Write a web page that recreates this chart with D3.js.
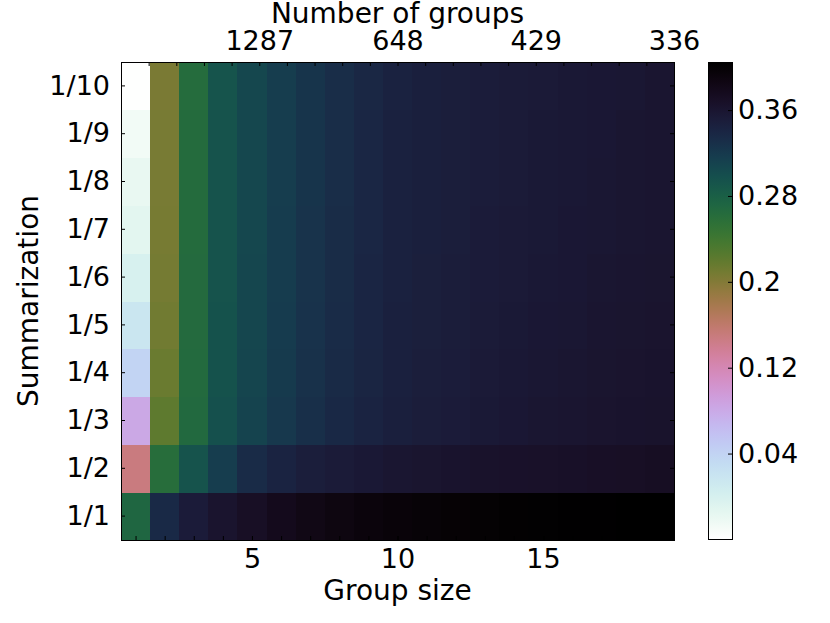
<!DOCTYPE html>
<html>
<head>
<meta charset="utf-8">
<script src="https://cdn.jsdelivr.net/npm/d3@7"></script>
<style>
body { margin: 0; background: #fff; }
text { font-family: "DejaVu Sans", sans-serif; fill: #000; }
</style>
</head>
<body>
<svg id="chart" width="830" height="623"></svg>
<script>
// group sizes along the bottom, summarization levels up the side
var groupSizes = [1, 2, 3, 4, 5, 6, 7, 8, 9, 10, 11, 12, 13, 14, 15, 16, 17, 18, 19];
var sumLabels = ["1/1", "1/2", "1/3", "1/4", "1/5", "1/6", "1/7", "1/8", "1/9", "1/10"];

// one row of values per summarization level
var sum1  = [0.271, 0.336, 0.352, 0.362, 0.370, 0.378, 0.384, 0.389, 0.392, 0.395, 0.397, 0.399, 0.400, 0.402, 0.403, 0.404, 0.404, 0.405, 0.405];
var sum2  = [0.149, 0.261, 0.294, 0.316, 0.334, 0.343, 0.349, 0.353, 0.356, 0.359, 0.361, 0.363, 0.365, 0.366, 0.367, 0.368, 0.369, 0.370, 0.372];
var sum3  = [0.082, 0.221, 0.267, 0.297, 0.310, 0.321, 0.330, 0.337, 0.343, 0.347, 0.350, 0.352, 0.355, 0.357, 0.359, 0.360, 0.362, 0.363, 0.364];
var sum4  = [0.039, 0.214, 0.266, 0.295, 0.308, 0.319, 0.328, 0.335, 0.341, 0.346, 0.349, 0.351, 0.354, 0.356, 0.358, 0.359, 0.361, 0.362, 0.363];
var sum5  = [0.017, 0.210, 0.265, 0.295, 0.307, 0.318, 0.327, 0.334, 0.340, 0.346, 0.348, 0.350, 0.353, 0.355, 0.357, 0.358, 0.360, 0.361, 0.362];
var sum6  = [-0.001, 0.208, 0.265, 0.294, 0.307, 0.317, 0.326, 0.333, 0.340, 0.345, 0.348, 0.350, 0.352, 0.354, 0.356, 0.357, 0.359, 0.360, 0.361];
var sum7  = [-0.013, 0.207, 0.264, 0.294, 0.306, 0.317, 0.326, 0.333, 0.339, 0.345, 0.347, 0.349, 0.352, 0.354, 0.355, 0.357, 0.358, 0.359, 0.360];
var sum8  = [-0.019, 0.206, 0.264, 0.294, 0.306, 0.316, 0.325, 0.332, 0.339, 0.345, 0.347, 0.349, 0.351, 0.353, 0.355, 0.356, 0.358, 0.359, 0.360];
var sum9  = [-0.027, 0.206, 0.264, 0.294, 0.306, 0.316, 0.325, 0.332, 0.339, 0.345, 0.347, 0.349, 0.351, 0.353, 0.355, 0.356, 0.357, 0.359, 0.360];
var sum10 = [-0.039, 0.205, 0.263, 0.293, 0.306, 0.316, 0.325, 0.332, 0.338, 0.344, 0.347, 0.349, 0.351, 0.353, 0.354, 0.356, 0.357, 0.358, 0.360];

// top axis: number of groups
var topTickPos = [5, 10, 15, 20];
var topTickLabels = ["1287", "648", "429", "336"];
var topMinor = [1, 2, 3, 4, 5, 6, 7, 8, 9, 10, 11, 12, 13, 14, 15, 16, 17, 18, 19];

var bottomTicks = [5, 10, 15];
var cbTicks = [0.04, 0.12, 0.2, 0.28, 0.36];
var cbRange = [-0.0396, 0.4048];

var rows = [sum1, sum2, sum3, sum4, sum5, sum6, sum7, sum8, sum9, sum10];
var cells = [];
rows.forEach(function (vals, i) {
  vals.forEach(function (v, j) {
    cells.push({ row: sumLabels[i], size: groupSizes[j], value: v });
  });
});

var plotLeft = 121, plotRight = 674, plotTop = 62, plotBottom = 540;
var svg = d3.select("#chart");

var x = d3.scaleLinear().domain([0.5, 19.5]).range([plotLeft, plotRight]);
var xTop = d3.scaleLinear().domain([0, 20]).range([plotLeft, plotRight]);
var y = d3.scaleBand().domain(sumLabels.slice().reverse()).range([plotTop, plotBottom]);
var color = d3.scaleSequential(function (t) { return d3.interpolateCubehelixDefault(1 - t); })
  .domain(cbRange);

// heatmap cells
svg.append("g")
  .selectAll("rect")
  .data(cells)
  .enter()
  .append("rect")
  .attr("x", function (d) { return x(d.size - 0.5); })
  .attr("width", function (d) { return x(d.size + 0.5) - x(d.size - 0.5) + 0.5; })
  .attr("y", function (d) { return y(d.row); })
  .attr("height", y.bandwidth() + 0.5)
  .attr("fill", function (d) { return color(d.value); })
  .attr("shape-rendering", "crispEdges");

var fs = "27px";
function styleAxis(g) {
  g.select(".domain").remove();
  g.selectAll(".tick line").attr("stroke", "#000").attr("stroke-width", 1);
  g.selectAll("text").style("font-size", fs).style("font-family", "DejaVu Sans");
}

// bottom axis: ticks on every group size, labels at 5, 10, 15
svg.append("g").attr("transform", "translate(0," + plotBottom + ")")
  .call(d3.axisBottom(x).tickValues(groupSizes).tickSizeInner(-4).tickSizeOuter(0).tickFormat(""))
  .call(styleAxis);
svg.append("g").attr("transform", "translate(0," + plotBottom + ")")
  .call(d3.axisBottom(x).tickValues(bottomTicks).tickSizeInner(-4).tickSizeOuter(0).tickPadding(9).tickFormat(d3.format("d")))
  .call(styleAxis);

// top axis
svg.append("g").attr("transform", "translate(0," + plotTop + ")")
  .call(d3.axisTop(xTop).tickValues(topMinor).tickSizeInner(-4).tickSizeOuter(0).tickFormat(""))
  .call(styleAxis);
svg.append("g").attr("transform", "translate(0," + plotTop + ")")
  .call(d3.axisTop(xTop).tickValues(topTickPos).tickSizeInner(0).tickSizeOuter(0).tickPadding(12)
    .tickFormat(function (d, i) { return topTickLabels[i]; }))
  .call(styleAxis);

// left and right axes
svg.append("g").attr("transform", "translate(" + plotLeft + ",0)")
  .call(d3.axisLeft(y).tickSizeInner(-4).tickSizeOuter(0).tickPadding(11))
  .call(styleAxis);
svg.append("g").attr("transform", "translate(" + plotRight + ",0)")
  .call(d3.axisRight(y).tickSizeInner(-4).tickSizeOuter(0).tickFormat(""))
  .call(styleAxis);

// frame
svg.append("rect")
  .attr("x", plotLeft + 0.5).attr("y", plotTop + 0.5)
  .attr("width", plotRight - plotLeft).attr("height", plotBottom - plotTop)
  .attr("fill", "none").attr("stroke", "#000").attr("stroke-width", 1);

// axis titles
svg.append("text").attr("x", (plotLeft + plotRight) / 2).attr("y", 23)
  .attr("text-anchor", "middle").style("font-size", "28px").text("Number of groups");
svg.append("text").attr("x", (plotLeft + plotRight) / 2).attr("y", 600)
  .attr("text-anchor", "middle").style("font-size", "28px").text("Group size");
svg.append("text").attr("transform", "translate(38," + ((plotTop + plotBottom) / 2) + ") rotate(-90)")
  .attr("text-anchor", "middle").style("font-size", "28px").text("Summarization");

// colorbar
var cbLeft = 708, cbRight = 732, cbTop = 62, cbBottom = 539;
var cbScale = d3.scaleLinear().domain(cbRange).range([cbBottom, cbTop]);
var grad = svg.append("defs").append("linearGradient")
  .attr("id", "cbgrad").attr("x1", 0).attr("y1", 1).attr("x2", 0).attr("y2", 0);
grad.selectAll("stop")
  .data(d3.range(0, 1.0001, 0.02))
  .enter().append("stop")
  .attr("offset", function (t) { return t; })
  .attr("stop-color", function (t) { return color(cbRange[0] + t * (cbRange[1] - cbRange[0])); });
svg.append("rect")
  .attr("x", cbLeft).attr("y", cbTop)
  .attr("width", cbRight - cbLeft).attr("height", cbBottom - cbTop)
  .attr("fill", "url(#cbgrad)");
svg.append("g").attr("transform", "translate(" + cbRight + ",0)")
  .call(d3.axisRight(cbScale).tickValues(cbTicks).tickSizeInner(-4).tickSizeOuter(0).tickPadding(6)
    .tickFormat(function (d) { return String(d); }))
  .call(styleAxis);
svg.append("rect")
  .attr("x", cbLeft + 0.5).attr("y", cbTop + 0.5)
  .attr("width", cbRight - cbLeft).attr("height", cbBottom - cbTop)
  .attr("fill", "none").attr("stroke", "#000").attr("stroke-width", 1);
</script>
</body>
</html>
